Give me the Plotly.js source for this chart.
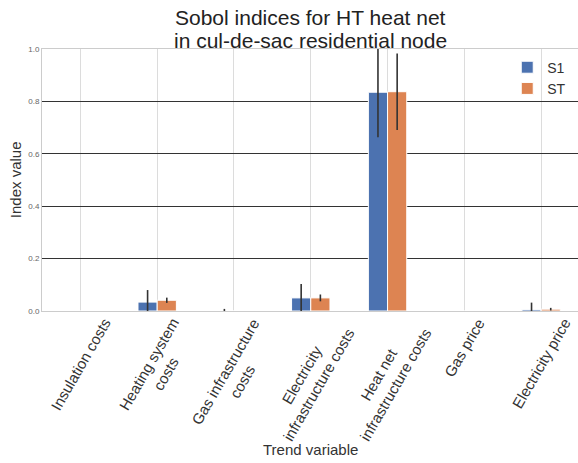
<!DOCTYPE html>
<html>
<head>
<meta charset="utf-8">
<script src="https://cdn.plot.ly/plotly-3.0.1.min.js"></script>
<style>html,body{margin:0;padding:0;background:#fff;}#chart{width:578px;height:463px;}</style>
</head>
<body>
<div id="chart"></div>
<script>
const categories = [
  "Insulation costs",
  "Heating system costs",
  "Gas infrastructure costs",
  "Electricity infrastructure costs",
  "Heat net infrastructure costs",
  "Gas price",
  "Electricity price"
];
const tickLabels = [
  "Insulation costs",
  "Heating system<br>costs",
  "Gas infrastructure<br>costs",
  "Electricity<br>infrastructure costs",
  "Heat net<br>infrastructure costs",
  "Gas price",
  "Electricity price"
];
const s1Values = [0.0, 0.034, 0.0, 0.050, 0.835, 0.0, 0.006];
const s1Errors = [0.0, 0.046, 0.008, 0.053, 0.172, 0.0, 0.026];
const stValues = [0.0, 0.041, 0.0, 0.050, 0.837, 0.0, 0.007];
const stErrors = [0.0, 0.010, 0.0, 0.013, 0.146, 0.0, 0.005];
const yTicks = [0.0, 0.2, 0.4, 0.6, 0.8, 1.0];
const yTickLabels = ["0.0", "0.2", "0.4", "0.6", "0.8", "1.0"];
const titleLines = ["Sobol indices for HT heat net", "in cul-de-sac residential node"];

const font = "Liberation Sans, Arial, sans-serif";
const errStyle = {type: "data", visible: true, color: "#333", thickness: 1.6, width: 0};

const traces = [
  {type: "bar", name: "S1", x: categories, y: s1Values,
   marker: {color: "#4C72B0", line: {color: "#ffffff", width: 1}},
   error_y: Object.assign({array: s1Errors}, errStyle)},
  {type: "bar", name: "ST", x: categories, y: stValues,
   marker: {color: "#DD8452", line: {color: "#ffffff", width: 1}},
   error_y: Object.assign({array: stErrors}, errStyle)}
];

const annotations = [
  {text: titleLines[0], xref: "paper", yref: "paper", x: 0.5, y: 1.12,
   xanchor: "center", yanchor: "middle", showarrow: false,
   font: {family: font, size: 21, color: "#222"}},
  {text: titleLines[1], xref: "paper", yref: "paper", x: 0.5, y: 1.034,
   xanchor: "center", yanchor: "middle", showarrow: false,
   font: {family: font, size: 21, color: "#222"}},
  {text: "Trend variable", xref: "paper", yref: "paper", x: 0.5, y: -0.53,
   xanchor: "center", yanchor: "middle", showarrow: false,
   font: {family: font, size: 15, color: "#333"}},
  {text: "Index value", xref: "paper", yref: "paper", x: -0.05, y: 0.5,
   xanchor: "center", yanchor: "middle", textangle: -90, showarrow: false,
   font: {family: font, size: 15, color: "#333"}}
];
categories.forEach(function (c, i) {
  annotations.push({text: tickLabels[i], xref: "x", yref: "paper", x: c, y: -0.012,
    xanchor: "center", yanchor: "top", textangle: -60, align: "center", showarrow: false,
    borderpad: 0, font: {family: font, size: 15, color: "#333"}});
});

const layout = {
  width: 578, height: 463,
  margin: {l: 42, r: 0, t: 49, b: 152},
  paper_bgcolor: "#ffffff", plot_bgcolor: "#ffffff",
  font: {family: font, color: "#333"},
  barmode: "group", bargap: 0.5, bargroupgap: 0,
  showlegend: true,
  legend: {x: 0.868, y: 0.99, xanchor: "left", yanchor: "top",
           font: {family: font, size: 14, color: "#333"}, bgcolor: "rgba(0,0,0,0)",
           itemwidth: 30, tracegroupgap: 6},
  xaxis: {type: "category", range: [-0.5, 6.48], showgrid: true, gridcolor: "#dcdcdc", gridwidth: 1,
          showline: true, linecolor: "#cccccc", linewidth: 1, mirror: true,
          showticklabels: false, ticks: ""},
  yaxis: {range: [0, 1.0], tickvals: yTicks, ticktext: yTickLabels,
          showgrid: true, gridcolor: "#333333", gridwidth: 1, zeroline: false,
          showline: true, linecolor: "#cccccc", linewidth: 1, mirror: true,
          tickfont: {family: font, size: 8, color: "#666"}, ticks: ""},
  annotations: annotations
};

Plotly.newPlot("chart", traces, layout, {staticPlot: true, displayModeBar: false});
</script>
</body>
</html>
